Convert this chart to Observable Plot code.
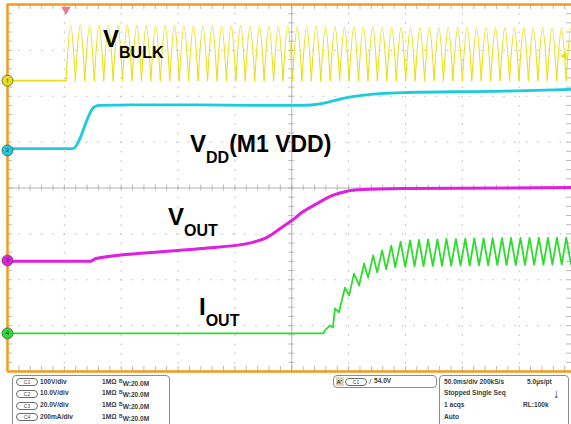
<!DOCTYPE html>
<html><head><meta charset="utf-8">
<script src="https://cdn.jsdelivr.net/npm/d3@7"></script>
<script src="https://cdn.jsdelivr.net/npm/@observablehq/plot@0.6"></script>
<style>
body{margin:0;background:#fff;}
#wrap{position:relative;width:571px;height:424px;overflow:hidden;font-family:"Liberation Sans",Arial,sans-serif;background:#fff;}
#wrap svg{position:absolute;left:0;top:0;}
.t{position:absolute;font-weight:bold;color:#3a3a3a;line-height:1;white-space:nowrap;}
.box{position:absolute;border:1px solid #8c8c8c;border-radius:4px;box-sizing:border-box;}
.pill{position:absolute;border:1px solid #6a6a6a;border-radius:5px;box-sizing:border-box;font-size:5px;text-align:center;color:#444;}
</style></head><body><div id="wrap"></div>
<script>
// ---------------- data (time in ms, trigger at 0; 50 ms/div) ----------------
const channels = ["C1", "C2", "C3", "C4"];
const chScale = [100, 10, 20, 200];          // units per division
const chOffset = [2.34, 0.82, -1.58, -3.17];  // ground marker position (div)
const chColor = ["#e9df17", "#1ccbdc", "#e020e0", "#2edc2e"];
const chSetting = ["100V/div", "10.0V/div", "20.0V/div", "200mA/div"];

// C1 V_BULK (V): rectified mains
const bulkValleyT = [1.4, 9.7, 18.0, 26.3, 34.6, 42.9, 51.2, 59.5, 67.8, 76.1, 84.4, 92.7, 101.0, 109.3, 117.6, 125.9, 134.2, 142.5, 150.8, 159.1, 167.4, 175.7, 184.0, 192.3, 200.6, 208.9, 217.2, 225.5, 233.8, 242.1, 250.4, 258.7, 267.0, 275.3, 283.6, 291.9, 300.2, 308.5, 316.8, 325.1, 333.4, 341.7, 350.0, 358.3, 366.6, 374.9, 383.2, 391.5, 399.8, 408.1, 416.4, 424.7, 433.0, 441.3, 449.6];
const bulkPeakT = [5.6, 13.9, 22.2, 30.5, 38.8, 47.1, 55.4, 63.7, 72.0, 80.3, 88.6, 96.9, 105.2, 113.5, 121.8, 130.1, 138.4, 146.7, 155.0, 163.3, 171.6, 179.9, 188.2, 196.5, 204.8, 213.1, 221.4, 229.7, 238.0, 246.3, 254.6, 262.9, 271.2, 279.5, 287.8, 296.1, 304.4, 312.7, 321.0, 329.3, 337.6, 345.9, 354.2, 362.5, 370.8, 379.1, 387.4, 395.7, 404.0, 412.3, 420.6, 428.9, 437.2, 445.5];
const bulkPeakV = [120, 121, 120, 121, 120, 120, 121, 120, 120, 119, 120, 120, 119, 120, 119, 120, 119, 119, 120, 119, 118, 119, 118, 119, 118, 118, 119, 118, 118, 117, 118, 117, 118, 117, 117, 116, 117, 116, 117, 116, 116, 115, 116, 115, 116, 115, 115, 114, 115, 114, 115, 114, 114, 114];

// C2 V_DD (V)
const vddT = [-50, 7.4, 26.0, 30.4, 60, 120, 164.7, 208.8, 226.5, 244.2, 261.8, 297.2, 385.5, 448];
const vddV = [0.4, 0.4, 9.4, 9.8, 9.9, 9.9, 9.8, 9.8, 10.2, 11.3, 12.0, 12.6, 12.9, 13.3];

// C3 V_OUT (V)
const voutT = [-50, 23.3, 27.7, 76.3, 120.5, 164.7, 177.9, 191.2, 200, 208.8, 222.1, 235.3, 248.6, 261.8, 297.2, 448];
const voutV = [-0.3, -0.3, 0.9, 3.5, 5.2, 7.8, 10.0, 14.4, 17.4, 20.9, 24.8, 28.3, 30.2, 30.9, 31.4, 31.8];

// C4 I_OUT (mA)
const ioutT = [-50, 228.0, 229.2, 233.6, 236.2, 238.0, 241.5, 246.8, 250.4, 254.8, 259.2, 263.6, 267.1, 271.6, 275.1, 279.5, 283.0, 287.5, 291.0, 295.7, 299.8, 304.0, 308.0, 311.9, 315.9, 319.9, 324.0, 328.1, 332.1, 336.0, 340.2, 344.3, 348.4, 352.6, 356.5, 360.5, 364.7, 368.7, 372.7, 376.7, 380.8, 384.9, 388.9, 392.8, 397.0, 401.1, 405.1, 409.1, 413.2, 417.3, 421.3, 425.3, 429.2, 433.2, 437.4, 441.4, 445.6, 449.5];
const ioutV = [0, 0, 13, 35, 26, 109, 92, 200, 166, 261, 209, 305, 244, 340, 266, 362, 279, 383, 288, 400, 290, 405, 292, 408, 293, 410, 294, 410, 295, 412, 295, 412, 296, 413, 296, 414, 297, 414, 297, 415, 298, 415, 298, 416, 298, 416, 299, 416, 299, 417, 300, 417, 300, 418, 300, 418, 300, 418];

const triggerT = 1.4;       // ms
const triggerLevel = 54.0;  // V on C1
const gridT = [0, 50, 100, 150, 250, 300, 350, 400];
const gridDiv = [-3, -2, -1, 1, 2, 3];

// ---------------- build ----------------
const toDiv = (ch, v) => chOffset[ch] + v / chScale[ch];
// pre-trigger flat part of C1
const bulkFlat = [{t: -50, v: 0}, {t: bulkValleyT[0], v: 0}];
// each half-wave: valley -> peak -> next valley (rounded top, sharp valleys)
const bulkHalves = [];
bulkPeakT.forEach((t, i) => {
  bulkHalves.push({seg: i, t: bulkValleyT[i], v: 0});
  bulkHalves.push({seg: i, t, v: bulkPeakV[i]});
  bulkHalves.push({seg: i, t: bulkValleyT[i + 1], v: 0});
});
const vdd = vddT.map((t, i) => ({t, v: vddV[i]}));
const vout = voutT.map((t, i) => ({t, v: voutV[i]}));
const iout = ioutT.map((t, i) => ({t, v: ioutV[i]}));

const minorT = d3.range(-50, 446.01, 10);
const minorDiv = d3.range(-4, 4.001, 0.2);
const px = 496 / 564, py = 8 / 367;
const grey = "#a8a8a8", orange = "#f39a1e";
const chIdx = [0, 1, 2, 3];

const plot = Plot.plot({
  width: 571, height: 372,
  marginLeft: 7, marginRight: 0, marginTop: 4, marginBottom: 1,
  x: {domain: [-50, 446], axis: null},
  y: {domain: [-4, 4], axis: null},
  color: {type: "identity"},
  style: {background: "white", overflow: "visible"},
  marks: [
    Plot.ruleX(gridT, {stroke: "#b8b8b8", strokeWidth: 1, strokeDasharray: "1.5 7.68"}),
    Plot.ruleY(gridDiv, {stroke: "#b8b8b8", strokeWidth: 1, strokeDasharray: "1.5 9.78"}),
    Plot.ruleX([200], {stroke: "#a0a0a0", strokeWidth: 0.8}),
    Plot.ruleY([0], {stroke: "#a0a0a0", strokeWidth: 0.8}),
    Plot.ruleX(minorT, {y1: -3 * py, y2: 3 * py, stroke: grey, strokeWidth: 0.8}),
    Plot.ruleY(minorDiv, {x1: 200 - 3 * px, x2: 200 + 3 * px, stroke: grey, strokeWidth: 0.8}),
    Plot.ruleX(minorT, {y1: 4, y2: 4 - 5 * py, stroke: grey, strokeWidth: 0.8}),
    Plot.ruleX(minorT, {y1: -4, y2: -4 + 5 * py, stroke: grey, strokeWidth: 0.8}),
    Plot.ruleY(minorDiv, {x1: -50, x2: -50 + 5 * px, stroke: grey, strokeWidth: 0.8}),
    Plot.ruleY(minorDiv, {x1: 446 - 5 * px, x2: 446, stroke: grey, strokeWidth: 0.8}),
    // traces
    Plot.line(bulkFlat, {x: "t", y: d => toDiv(0, d.v), stroke: chColor[0], strokeWidth: 1.6}),
    Plot.line(bulkHalves, {x: "t", y: d => toDiv(0, d.v), z: "seg", stroke: chColor[0], strokeWidth: 1.1, curve: "monotone-x"}),
    Plot.line(vdd, {x: "t", y: d => toDiv(1, d.v), stroke: chColor[1], strokeWidth: 2.8, curve: "monotone-x"}),
    Plot.line(vout, {x: "t", y: d => toDiv(2, d.v), stroke: chColor[2], strokeWidth: 3, curve: "monotone-x"}),
    Plot.line(iout, {x: "t", y: d => toDiv(3, d.v), stroke: chColor[3], strokeWidth: 1.8}),
    // frame
    Plot.ruleY([4], {stroke: orange, strokeWidth: 2.5}),
    Plot.ruleY([-4], {stroke: orange, strokeWidth: 2.5}),
    Plot.ruleX([-50], {stroke: orange, strokeWidth: 2.5}),
    // channel ground markers
    Plot.dot(chIdx, {x: () => -50, y: i => chOffset[i], r: 5.5, fill: i => chColor[i], stroke: "#555", strokeWidth: 0.8}),
    Plot.text(chIdx, {x: () => -50, y: i => chOffset[i], text: i => String(i + 1), fontSize: 6, fill: "#333"}),
    // trigger position & level markers
    Plot.dot([triggerT], {x: d => d, y: () => 4 - 5 * py, symbol: "triangle", r: 3.5, fill: "#ee7d86", rotate: 180}),
    Plot.dot([triggerLevel], {x: () => 446 - 7 * px, y: d => toDiv(0, d), symbol: "triangle", r: 2.8, fill: chColor[0], rotate: -90})
  ]
});

const wrap = document.getElementById("wrap");
wrap.appendChild(plot);

// trace labels
const svg = d3.select(plot);
function label(x, y, main, sub, tail) {
  const t = svg.append("text").attr("x", x).attr("y", y).attr("text-anchor", "start")
    .attr("font-family", "'Liberation Sans', Arial, sans-serif").attr("font-weight", "bold").attr("fill", "#000");
  t.append("tspan").attr("font-size", 24).text(main);
  t.append("tspan").attr("font-size", 16).attr("dy", 11).text(sub);
  if (tail) t.append("tspan").attr("font-size", 23).attr("dy", -11).text(tail);
}
label(103, 47, "V", "BULK");
label(190, 152, "V", "DD", "(M1 VDD)");
label(168, 225, "V", "OUT");
label(199, 315, "I", "OUT");

// ---------------- status panel ----------------
function box(x, y, w, h) {
  const d = document.createElement("div");
  d.className = "box";
  Object.assign(d.style, {left: x + "px", top: y + "px", width: w + "px", height: h + "px"});
  wrap.appendChild(d);
}
function txt(x, yc, s, size = 6.6, extra = {}) {
  const d = document.createElement("div");
  d.className = "t";
  d.innerHTML = s;
  Object.assign(d.style, {left: x + "px", top: (yc - size / 2) + "px", fontSize: size + "px"}, extra);
  wrap.appendChild(d);
}
function pill(x, yc, s) {
  const d = document.createElement("div");
  d.className = "pill";
  d.textContent = s;
  Object.assign(d.style, {left: x + "px", top: (yc - 4) + "px", width: "22px", height: "8px", lineHeight: "6px"});
  wrap.appendChild(d);
}
box(12, 375, 158, 60);
const rowY = [382, 393.5, 405.5, 417];
channels.forEach((c, i) => {
  pill(16, rowY[i], c);
  txt(40, rowY[i], chSetting[i]);
  txt(102, rowY[i], "1MΩ");
  txt(119, rowY[i], '<span style="font-size:5px;vertical-align:3px">B</span>W:20.0M');
});
box(333, 375, 104, 13);
const ic = document.createElement("div");
Object.assign(ic.style, {position: "absolute", left: "336px", top: "377px", width: "8px", height: "9px", background: "#e3d3b6"});
wrap.appendChild(ic);
txt(336.5, 381.5, "A'", 6, {fontSize: "6px"});
pill(345, 381.5, "C1");
txt(369, 381.5, "/", 8, {fontWeight: "normal"});
txt(374, 381.5, "54.0V");
box(439, 375, 130, 60);
txt(444, 382, "50.0ms/div 200kS/s");
txt(527, 382, "5.0µs/pt");
txt(444, 393.5, "Stopped");
txt(472, 393.5, "Single Seq");
txt(553, 394, "↓", 12, {color: "#111"});
txt(444, 405.5, "1 acqs");
txt(523, 405.5, "RL:100k");
txt(444, 417, "Auto");
</script></body></html>
